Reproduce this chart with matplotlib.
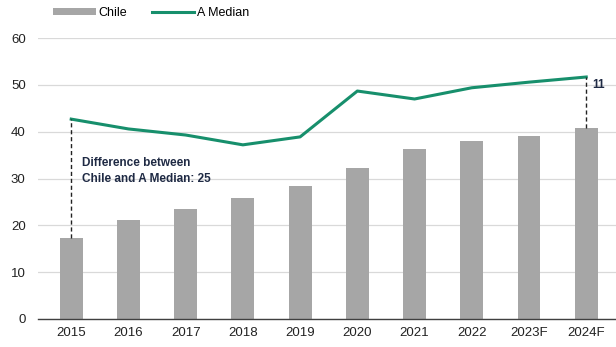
import matplotlib.pyplot as plt
import numpy as np

plt.rcParams['font.family'] = ['Liberation Sans', 'DejaVu Sans']

years = ["2015", "2016", "2017", "2018", "2019", "2020", "2021", "2022", "2023F", "2024F"]
chile = [17.3, 21.2, 23.5, 25.9, 28.4, 32.3, 36.3, 38.0, 39.1, 40.9]
a_median = [42.7, 40.6, 39.3, 37.2, 38.9, 48.7, 47.0, 49.4, 50.6, 51.7]

x = np.arange(len(years))

fig = plt.figure(figsize=(6.16, 3.47), dpi=100)
ax = fig.add_axes([0.062, 0.081, 0.938, 0.809])

bars = ax.bar(x, chile, width=0.4, color="#a6a6a6", label="Chile", zorder=2)
line, = ax.plot(x, a_median, color="#178f6c", lw=2.2, label="A Median", zorder=3)

# gap markers
ax.plot([x[0], x[0]], [chile[0], a_median[0]], ls=(0, (3, 2)), color="#222222", lw=1, zorder=4)
ax.plot([x[-1], x[-1]], [chile[-1], a_median[-1]], ls=(0, (3, 2)), color="#222222", lw=1, zorder=4)
ax.text(x[0] + 0.19, 34.6, "Difference between\nChile and A Median: %d" % round(a_median[0] - chile[0]),
        fontsize=8.5, fontweight="bold", color="#1f2a44", va="top", ha="left", linespacing=1.45)
ax.text(x[-1] + 0.1, 50.0, "%d" % round(a_median[-1] - chile[-1]),
        fontsize=8.5, fontweight="bold", color="#1f2a44", va="center", ha="left")

ax.set_ylim(0, 60)
ax.set_xlim(-0.577, 9.52)
ax.set_yticks(range(0, 61, 10))
ax.set_xticks(x)
ax.set_xticklabels(years)
ax.tick_params(length=0, labelsize=9.5, colors="#222222")
ax.tick_params(axis="y", pad=9)
ax.tick_params(axis="x", pad=6)
ax.yaxis.grid(True, color="#d9d9d9", lw=0.9, zorder=0)
ax.set_axisbelow(True)
for s in ["top", "right", "left"]:
    ax.spines[s].set_visible(False)
ax.spines["bottom"].set_color("#404040")
ax.spines["bottom"].set_linewidth(1)

fig.legend([bars, line], ["Chile", "A Median"], loc="upper left", bbox_to_anchor=(0.068, 1.012),
           ncol=2, frameon=False, fontsize=9, handlelength=3.4, handleheight=0.5,
           handletextpad=0.2, columnspacing=2.0)

fig.savefig("out.png", dpi=100)
